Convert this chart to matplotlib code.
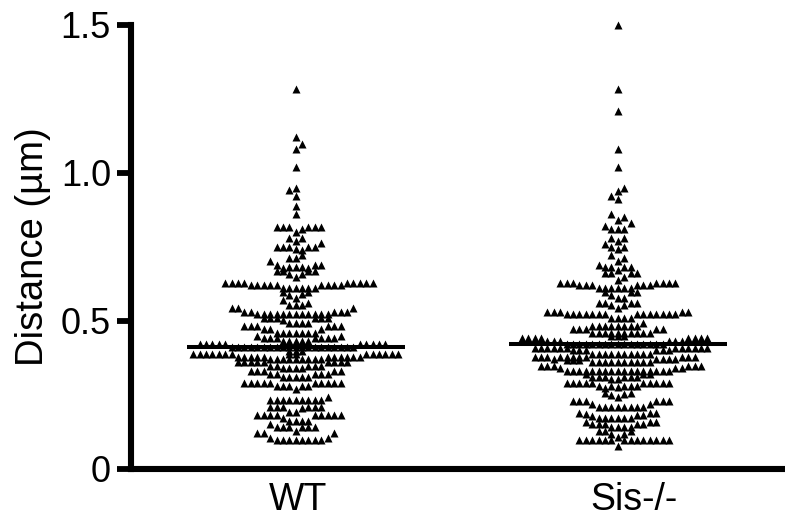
import matplotlib
matplotlib.use('Agg')
import matplotlib.pyplot as plt

plt.rcParams['font.family'] = ['Liberation Sans', 'DejaVu Sans']

groups = ['WT', 'Sis-/-']
group_means = [0.411, 0.423]
ytick_values = [0, 0.5, 1.0, 1.5]
ytick_labels = ['0', '0.5', '1.0', '1.5']

# each row: values going left from the centre, then values from the centre going right
wt_rows = [
    ([], [1.283]),
    ([], [1.12, 1.097]),
    ([], [1.081]),
    ([], [1.02]),
    ([.941], [.951]),
    ([], [.921]),
    ([], [.89]),
    ([], [.86]),
    ([.819, .819, .819], [.80, .811, .819, .819, .819]),
    ([.78], [.77, .78]),
    ([.751, .751, .751], [.742, .74, .751, .751, .7625]),
    ([.712], [.712, .723]),
    ([.681, .678, .689, .703], [.681, .681, .678, .689, .689]),
    ([.659, .669, .669], [.65, .659, .669, .669]),
    ([.61] * 2 + [.622] * 5 + [.63] * 4, [.61] * 4 + [.622] * 4 + [.63] * 5),
    ([.588, .599], [.579, .59, .599]),
    ([.554, .571], [.554, .554, .562]),
    ([.522] * 6 + [.529] * 2 + [.543] * 2, [.522] * 6 + [.529] * 3 + [.543]),
    ([.494, .503, .511, .511, .511], [.494, .494, .494, .511, .511, .511]),
    ([.461] * 3 + [.473] * 2 + [.483] * 3, [.461] * 4 + [.473] + [.483] * 3),
    ([.433] * 2 + [.441] * 3 + [.45], [.433] * 3 + [.441] * 4 + [.45]),
    ([.411] * 10 + [.421] * 5, [.411] * 10 + [.421] * 5),
    ([.399], [.399, .399]),
    ([.389], [.389]),
    ([.371] * 4 + [.38] * 5 + [.389] * 7, [.371] * 5 + [.38] * 6 + [.389] * 6),
    ([.342] * 2 + [.349] * 2 + [.36] * 5, [.342] * 2 + [.349] * 3 + [.36] * 4),
    ([.312] * 2 + [.321] * 2 + [.331] * 3, [.312] * 3 + [.321] * 3 + [.331] * 2),
    ([.28] * 3 + [.292] * 5, [.269, .28, .28] + [.292] * 5),
    ([.233] * 4, [.233] * 5 + [.243]),
    ([.194, .211, .211, .211], [.194, .205, .211, .211, .211]),
    ([.162, .173] + [.182] * 4, [.162] * 3 + [.182] * 5),
    ([.141, .141, .141, .151], [.13, .141, .141, .141]),
    ([.098] * 3 + [.106, .12, .12], [.098] * 5 + [.106, .12]),
]

sis_rows = [
    ([], [1.50]),
    ([], [1.283]),
    ([], [1.21]),
    ([], [1.081]),
    ([], [1.021]),
    ([], [.94, .951]),
    ([.922], [.911]),
    ([.862], [.84, .851, .83]),
    ([.812, .82], [.812, .812]),
    ([.78], [.77, .78]),
    ([.751, .761], [.742, .751]),
    ([.722], [.703, .713]),
    ([.681, .681, .69], [.671, .681, .681]),
    ([.661, .661], [.639, .65, .661, .661]),
    ([.61] * 3 + [.622] * 3 + [.63] * 3, [.61] * 3 + [.622] * 3 + [.63] * 4),
    ([.588, .599], [.579, .579, .599, .599]),
    ([.554, .562, .562], [.543, .554, .562, .562]),
    ([.511] + [.522] * 7 + [.529] * 3, [.511] * 3 + [.522] * 7 + [.529] * 2),
    ([.483] * 4 + [.472] * 3, [.483] * 4 + [.494, .461, .472, .472]),
    ([.461] * 4, [.461] * 5),
    ([.45], [.45, .45]),
    ([.421] * 8 + [.432] * 3 + [.441] * 4, [.421] * 8 + [.432] * 3 + [.441] * 4),
    ([.39] * 4 + [.401] * 3 + [.41] * 6, [.39] * 6 + [.401] * 3 + [.41] * 6),
    ([.363] * 4 + [.377] * 5 + [.37] + [.38] * 3, [.363] * 6 + [.37] * 4 + [.38] * 3),
    ([.331] * 8 + [.34] + [.348] * 3, [.331] * 9 + [.34] * 2 + [.348] * 3),
    ([.303, .312, .312, .312, .321, .368, .368, .368], [.303, .312, .312, .312, .321, .321]),
    ([.28, .272, .28] + [.292] * 5, [.277, .28, .28, .28] + [.292] * 5),
    ([.25, .258], [.243, .253, .258]),
    ([.21] * 3 + [.22] + [.23] * 3, [.21] * 5 + [.22] + [.23] * 3),
    ([.173] * 3 + [.179, .187, .19], [.173] * 3 + [.181, .181, .19, .19]),
    ([.141, .151, .151, .151, .16], [.141] * 3 + [.151, .151, .16, .16]),
    ([.118, .128, .128], [.109, .118, .128]),
    ([.098] * 6, [.079] + [.098] * 8),
]


def swarm(rows, centre, step):
    xs = []
    ys = []
    for left, right in rows:
        for i, v in enumerate(left):
            xs.append(centre - (i + 1) * step)
            ys.append(v)
        for i, v in enumerate(right):
            xs.append(centre + i * step)
            ys.append(v)
    return xs, ys


px = 1 / 322  # one pixel in x data units, groups sit 322 px apart
fig = plt.figure(figsize=(7.85, 5.19), dpi=100)
ax = fig.add_axes([130.7 / 785, 50 / 519, (785 - 130.7) / 785, 444 / 519])

for pos, rows, mean in zip([1, 2], [wt_rows, sis_rows], group_means):
    x, y = swarm(rows, pos, 6.4 * px)
    ax.plot(x, y, linestyle='none', marker='^', ms=5.2, mfc='black', mec='none', clip_on=False)
    ax.plot([pos - 109 * px, pos + 109 * px], [mean, mean], color='black', lw=2.9, solid_capstyle='butt')

ax.set_xlim(1 - 165 * px, 2 + 167.3 * px)
ax.set_ylim(0, 1.5)
# group labels do not sit exactly under their swarms in the original
ax.set_xticks([1 + 2.3 * px, 2 + 16 * px])
ax.set_xticklabels(groups)
ax.set_yticks(ytick_values)
ax.set_yticklabels(ytick_labels)
ax.set_ylabel('Distance (µm)', fontsize=27.5, labelpad=7)

ax.spines['top'].set_visible(False)
ax.spines['right'].set_visible(False)
ax.spines['left'].set_linewidth(4.4)
ax.spines['bottom'].set_linewidth(4.4)
ax.tick_params(axis='y', length=10.2, width=4.2, labelsize=26, pad=4)
ax.tick_params(axis='x', length=0, labelsize=27, pad=9.5)

fig.savefig('out.png', dpi=100)
